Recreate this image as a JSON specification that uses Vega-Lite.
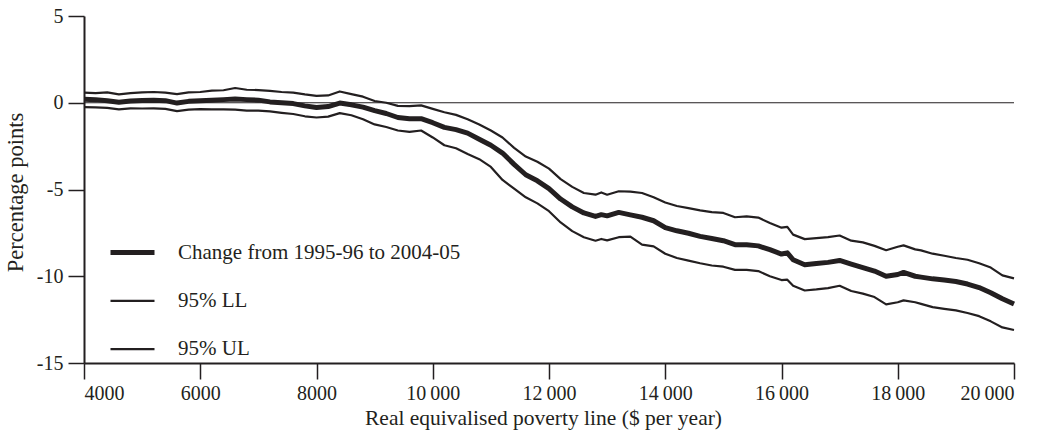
{
  "$schema": "https://vega.github.io/schema/vega-lite/v6.json",
  "width": 930,
  "height": 347,
  "autosize": {"type": "none"},
  "padding": {"left": 84, "top": 16, "right": 38, "bottom": 71},
  "background": "white",
  "config": {
    "view": {"stroke": null},
    "font": "Liberation Serif",
    "axis": {
      "labelFont": "Liberation Serif",
      "titleFont": "Liberation Serif",
      "labelFontSize": 20,
      "titleFontSize": 21.5,
      "titleFontWeight": "normal",
      "labelColor": "#231f20",
      "titleColor": "#231f20",
      "domainColor": "#231f20",
      "tickColor": "#231f20",
      "domainWidth": 2,
      "tickWidth": 1.5,
      "tickSize": 16,
      "grid": false
    },
    "legend": {
      "labelFont": "Liberation Serif",
      "labelFontSize": 21,
      "labelColor": "#231f20",
      "labelLimit": 500
    }
  },
  "data": {
    "values": [
      {"x": 4000, "change": 0.2, "ll": -0.25, "ul": 0.58},
      {"x": 4200, "change": 0.18, "ll": -0.27, "ul": 0.55},
      {"x": 4400, "change": 0.12, "ll": -0.3, "ul": 0.6},
      {"x": 4600, "change": 0.03, "ll": -0.38, "ul": 0.48},
      {"x": 4800, "change": 0.1, "ll": -0.32, "ul": 0.55},
      {"x": 5000, "change": 0.13, "ll": -0.33, "ul": 0.6},
      {"x": 5200, "change": 0.15, "ll": -0.32, "ul": 0.62},
      {"x": 5400, "change": 0.12, "ll": -0.35, "ul": 0.58},
      {"x": 5600, "change": -0.02, "ll": -0.48, "ul": 0.5},
      {"x": 5800, "change": 0.08, "ll": -0.4, "ul": 0.6},
      {"x": 6000, "change": 0.12, "ll": -0.37, "ul": 0.62},
      {"x": 6200, "change": 0.15, "ll": -0.38, "ul": 0.7},
      {"x": 6400, "change": 0.18, "ll": -0.38, "ul": 0.72},
      {"x": 6600, "change": 0.22, "ll": -0.4, "ul": 0.85},
      {"x": 6800, "change": 0.18, "ll": -0.45, "ul": 0.75},
      {"x": 7000, "change": 0.15, "ll": -0.45, "ul": 0.73},
      {"x": 7200, "change": 0.05, "ll": -0.5, "ul": 0.68},
      {"x": 7400, "change": 0.0, "ll": -0.58, "ul": 0.62},
      {"x": 7600, "change": -0.05, "ll": -0.65, "ul": 0.58},
      {"x": 7800, "change": -0.18, "ll": -0.78, "ul": 0.48},
      {"x": 8000, "change": -0.27, "ll": -0.85, "ul": 0.4},
      {"x": 8200, "change": -0.22, "ll": -0.8, "ul": 0.42},
      {"x": 8400, "change": -0.02, "ll": -0.6, "ul": 0.65},
      {"x": 8600, "change": -0.12, "ll": -0.72, "ul": 0.5},
      {"x": 8800, "change": -0.25, "ll": -0.95, "ul": 0.35},
      {"x": 9000, "change": -0.45, "ll": -1.25, "ul": 0.1},
      {"x": 9200, "change": -0.62, "ll": -1.4, "ul": 0.0},
      {"x": 9400, "change": -0.85, "ll": -1.6, "ul": -0.18},
      {"x": 9600, "change": -0.92, "ll": -1.68, "ul": -0.2},
      {"x": 9800, "change": -0.92, "ll": -1.6, "ul": -0.15},
      {"x": 10000, "change": -1.15, "ll": -2.0, "ul": -0.35},
      {"x": 10200, "change": -1.42, "ll": -2.45, "ul": -0.55},
      {"x": 10400, "change": -1.55, "ll": -2.62, "ul": -0.7},
      {"x": 10600, "change": -1.75, "ll": -2.95, "ul": -0.95},
      {"x": 10800, "change": -2.1, "ll": -3.25, "ul": -1.25},
      {"x": 11000, "change": -2.45, "ll": -3.7, "ul": -1.6},
      {"x": 11200, "change": -2.9, "ll": -4.45, "ul": -2.0},
      {"x": 11400, "change": -3.55, "ll": -4.95, "ul": -2.6},
      {"x": 11600, "change": -4.15, "ll": -5.45, "ul": -3.1},
      {"x": 11800, "change": -4.5, "ll": -5.8, "ul": -3.4},
      {"x": 12000, "change": -4.95, "ll": -6.25, "ul": -3.8},
      {"x": 12200, "change": -5.55, "ll": -6.9, "ul": -4.4},
      {"x": 12400, "change": -6.0, "ll": -7.4, "ul": -4.85},
      {"x": 12600, "change": -6.35, "ll": -7.75, "ul": -5.2},
      {"x": 12800, "change": -6.55, "ll": -7.95, "ul": -5.3},
      {"x": 12900, "change": -6.45, "ll": -7.85, "ul": -5.17},
      {"x": 13000, "change": -6.52, "ll": -7.93, "ul": -5.3},
      {"x": 13200, "change": -6.32, "ll": -7.75, "ul": -5.1},
      {"x": 13400, "change": -6.46, "ll": -7.72, "ul": -5.12},
      {"x": 13600, "change": -6.6, "ll": -8.18, "ul": -5.2},
      {"x": 13800, "change": -6.8, "ll": -8.28, "ul": -5.45},
      {"x": 14000, "change": -7.2, "ll": -8.7, "ul": -5.75},
      {"x": 14200, "change": -7.38, "ll": -8.95, "ul": -5.95},
      {"x": 14400, "change": -7.52, "ll": -9.1, "ul": -6.07},
      {"x": 14600, "change": -7.7, "ll": -9.25, "ul": -6.2},
      {"x": 14800, "change": -7.82, "ll": -9.38, "ul": -6.3},
      {"x": 15000, "change": -7.95, "ll": -9.45, "ul": -6.35},
      {"x": 15200, "change": -8.18, "ll": -9.63, "ul": -6.6},
      {"x": 15400, "change": -8.18, "ll": -9.63, "ul": -6.55},
      {"x": 15600, "change": -8.25, "ll": -9.7, "ul": -6.62},
      {"x": 15800, "change": -8.47, "ll": -10.0, "ul": -6.93},
      {"x": 16000, "change": -8.72, "ll": -10.22, "ul": -7.2},
      {"x": 16100, "change": -8.65, "ll": -10.2, "ul": -7.15},
      {"x": 16200, "change": -9.05, "ll": -10.55, "ul": -7.6},
      {"x": 16400, "change": -9.34, "ll": -10.82, "ul": -7.86},
      {"x": 16600, "change": -9.27, "ll": -10.76, "ul": -7.8},
      {"x": 16800, "change": -9.2, "ll": -10.68, "ul": -7.75},
      {"x": 17000, "change": -9.09, "ll": -10.55, "ul": -7.65},
      {"x": 17200, "change": -9.3, "ll": -10.85, "ul": -7.95},
      {"x": 17400, "change": -9.5, "ll": -11.0, "ul": -8.05},
      {"x": 17600, "change": -9.7, "ll": -11.2, "ul": -8.25},
      {"x": 17800, "change": -10.0, "ll": -11.62, "ul": -8.5},
      {"x": 18000, "change": -9.9, "ll": -11.5, "ul": -8.3},
      {"x": 18100, "change": -9.78, "ll": -11.39, "ul": -8.22},
      {"x": 18300, "change": -10.0, "ll": -11.5, "ul": -8.45},
      {"x": 18400, "change": -10.05, "ll": -11.59, "ul": -8.51},
      {"x": 18600, "change": -10.15, "ll": -11.78, "ul": -8.7},
      {"x": 18800, "change": -10.22, "ll": -11.88, "ul": -8.82},
      {"x": 19000, "change": -10.3, "ll": -11.97, "ul": -8.95},
      {"x": 19200, "change": -10.45, "ll": -12.12, "ul": -9.05},
      {"x": 19400, "change": -10.65, "ll": -12.3, "ul": -9.25},
      {"x": 19600, "change": -10.95, "ll": -12.6, "ul": -9.5},
      {"x": 19800, "change": -11.3, "ll": -12.95, "ul": -9.95},
      {"x": 20000, "change": -11.6, "ll": -13.1, "ul": -10.12}
    ]
  },
  "layer": [
    {
      "data": {"values": [{"y": 0}]},
      "mark": {"type": "rule", "color": "#231f20", "strokeWidth": 1},
      "encoding": {"y": {"field": "y", "type": "quantitative"}}
    },
    {
      "transform": [{"fold": ["change", "ll", "ul"], "as": ["series", "pp"]}],
      "mark": {"type": "line", "strokeJoin": "round"},
      "encoding": {
        "x": {
          "field": "x",
          "type": "quantitative",
          "scale": {"domain": [4000, 20000], "nice": false, "zero": false},
          "axis": {
            "title": "Real equivalised poverty line ($ per year)",
            "titleX": 459,
            "values": [4000, 6000, 8000, 10000, 12000, 14000, 16000, 18000, 20000],
            "labelExpr": "datum.value >= 10000 ? floor(datum.value / 1000) + '\u2009000' : '' + datum.value",
            "labelPadding": 4,
            "titlePadding": 4
          }
        },
        "y": {
          "field": "pp",
          "type": "quantitative",
          "scale": {"domain": [-15, 5], "nice": false},
          "axis": {
            "title": "Percentage points",
            "titleFontSize": 22.5,
            "titleY": 176,
            "values": [-15, -10, -5, 0, 5],
            "labelExpr": "datum.value < 0 ? '-' + abs(datum.value) : '' + datum.value",
            "labelPadding": 5,
            "titlePadding": 9
          }
        },
        "color": {
          "field": "series",
          "type": "nominal",
          "scale": {"domain": ["change", "ll", "ul"], "range": ["#231f20", "#231f20", "#231f20"]},
          "legend": {
            "title": null,
            "orient": "none",
            "legendX": 24,
            "legendY": 212,
            "padding": 0,
            "symbolType": "stroke",
            "symbolSize": 1936,
            "rowPadding": 14.3,
            "labelOffset": 21,
            "labelExpr": "datum.value == 'change' ? 'Change from 1995-96 to 2004-05' : datum.value == 'll' ? '95% LL' : '95% UL'"
          }
        },
        "strokeWidth": {
          "field": "series",
          "type": "nominal",
          "scale": {"type": "ordinal", "domain": ["change", "ll", "ul"], "range": [5, 2.2, 2.2]},
          "legend": {
            "title": null,
            "orient": "none",
            "legendX": 24,
            "legendY": 212,
            "padding": 0,
            "symbolType": "stroke",
            "symbolSize": 1936,
            "rowPadding": 14.3,
            "labelOffset": 21,
            "labelExpr": "datum.value == 'change' ? 'Change from 1995-96 to 2004-05' : datum.value == 'll' ? '95% LL' : '95% UL'"
          }
        },
        "detail": {"field": "series", "type": "nominal"}
      }
    }
  ]
}
